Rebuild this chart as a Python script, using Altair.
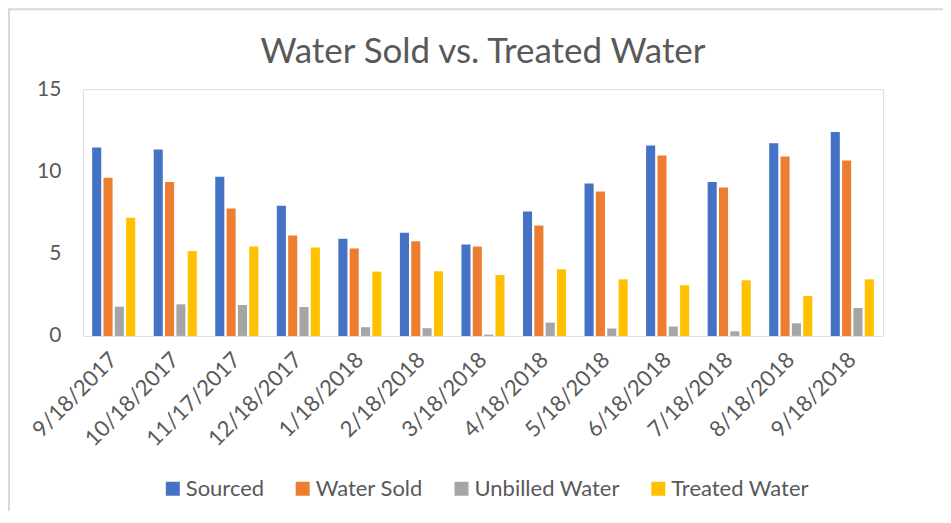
import altair as alt
import pandas as pd

dates = ["9/18/2017", "10/18/2017", "11/17/2017", "12/18/2017", "1/18/2018",
         "2/18/2018", "3/18/2018", "4/18/2018", "5/18/2018", "6/18/2018",
         "7/18/2018", "8/18/2018", "9/18/2018"]
series = ["Sourced", "Water Sold", "Unbilled Water", "Treated Water"]
colors = ["#4472C4", "#ED7D31", "#A5A5A5", "#FFC000"]
title_text = "Water Sold vs. Treated Water"

sourced = [11.46, 11.33, 9.67, 7.91, 5.91, 6.27, 5.56, 7.57, 9.27, 11.58, 9.35, 11.72, 12.40]
water_sold = [9.61, 9.35, 7.75, 6.11, 5.32, 5.75, 5.44, 6.72, 8.78, 10.97, 9.03, 10.91, 10.67]
unbilled = [1.78, 1.92, 1.88, 1.76, 0.53, 0.47, 0.08, 0.81, 0.45, 0.57, 0.28, 0.77, 1.70]
treated = [7.18, 5.16, 5.44, 5.38, 3.91, 3.93, 3.70, 4.05, 3.44, 3.08, 3.38, 2.43, 3.44]

rows = []
for name, vals in zip(series, [sourced, water_sold, unbilled, treated]):
    for d, v in zip(dates, vals):
        rows.append({"date": d, "series": name, "value": v})
df = pd.DataFrame(rows)

FONT = "Lato"
GREY = "#595959"

bars = alt.Chart(df).mark_bar().encode(
    x=alt.X("date:N", sort=dates, title=None,
            scale=alt.Scale(paddingInner=0.3, paddingOuter=0.15),
            axis=alt.Axis(labelAngle=-45, ticks=False, domain=False,
                          labelFontSize=22, labelFont=FONT, labelColor=GREY,
                          labelPadding=20, labelBaseline="middle")),
    xOffset=alt.XOffset("series:N", sort=series,
                        scale=alt.Scale(paddingInner=0.2, paddingOuter=0)),
    y=alt.Y("value:Q", title=None,
            scale=alt.Scale(domain=[0, 15], nice=False),
            axis=alt.Axis(values=[0, 5, 10, 15], grid=False, domain=False, ticks=False,
                          labelFontSize=21, labelFont=FONT, labelColor=GREY,
                          labelPadding=22)),
    color=alt.Color("series:N", sort=series,
                    scale=alt.Scale(domain=series, range=colors),
                    legend=alt.Legend(title=None, orient="none", direction="horizontal",
                                      legendX=79, legendY=389,
                                      symbolType="square", symbolSize=196,
                                      symbolStrokeWidth=0, labelFontSize=22,
                                      labelFont=FONT, labelColor=GREY,
                                      labelOffset=2, columnPadding=27)),
)

one = pd.DataFrame({"a": [0]})

frame = alt.Chart(one).mark_rect(
    fill=None, stroke="#D9D9D9", strokeWidth=2, clip=False
).encode(
    x=alt.value(-74), x2=alt.value(1200), y=alt.value(-80), y2=alt.value(1200)
)

title = alt.Chart(one).mark_text(
    text=title_text, font=FONT, fontSize=35, color=GREY, align="center",
    baseline="alphabetic", clip=False
).encode(x=alt.value(400.5), y=alt.value(-26))

chart = alt.layer(frame, title, bars).properties(
    width=801, height=247,
    autosize=alt.AutoSizeParams(type="none"),
    padding={"left": 75, "top": 81, "right": 60, "bottom": 175},
).configure_view(stroke="#D9D9D9", strokeWidth=2).configure(background="white")

chart.save("out.html", embed_options={"renderer": "svg", "actions": False})
